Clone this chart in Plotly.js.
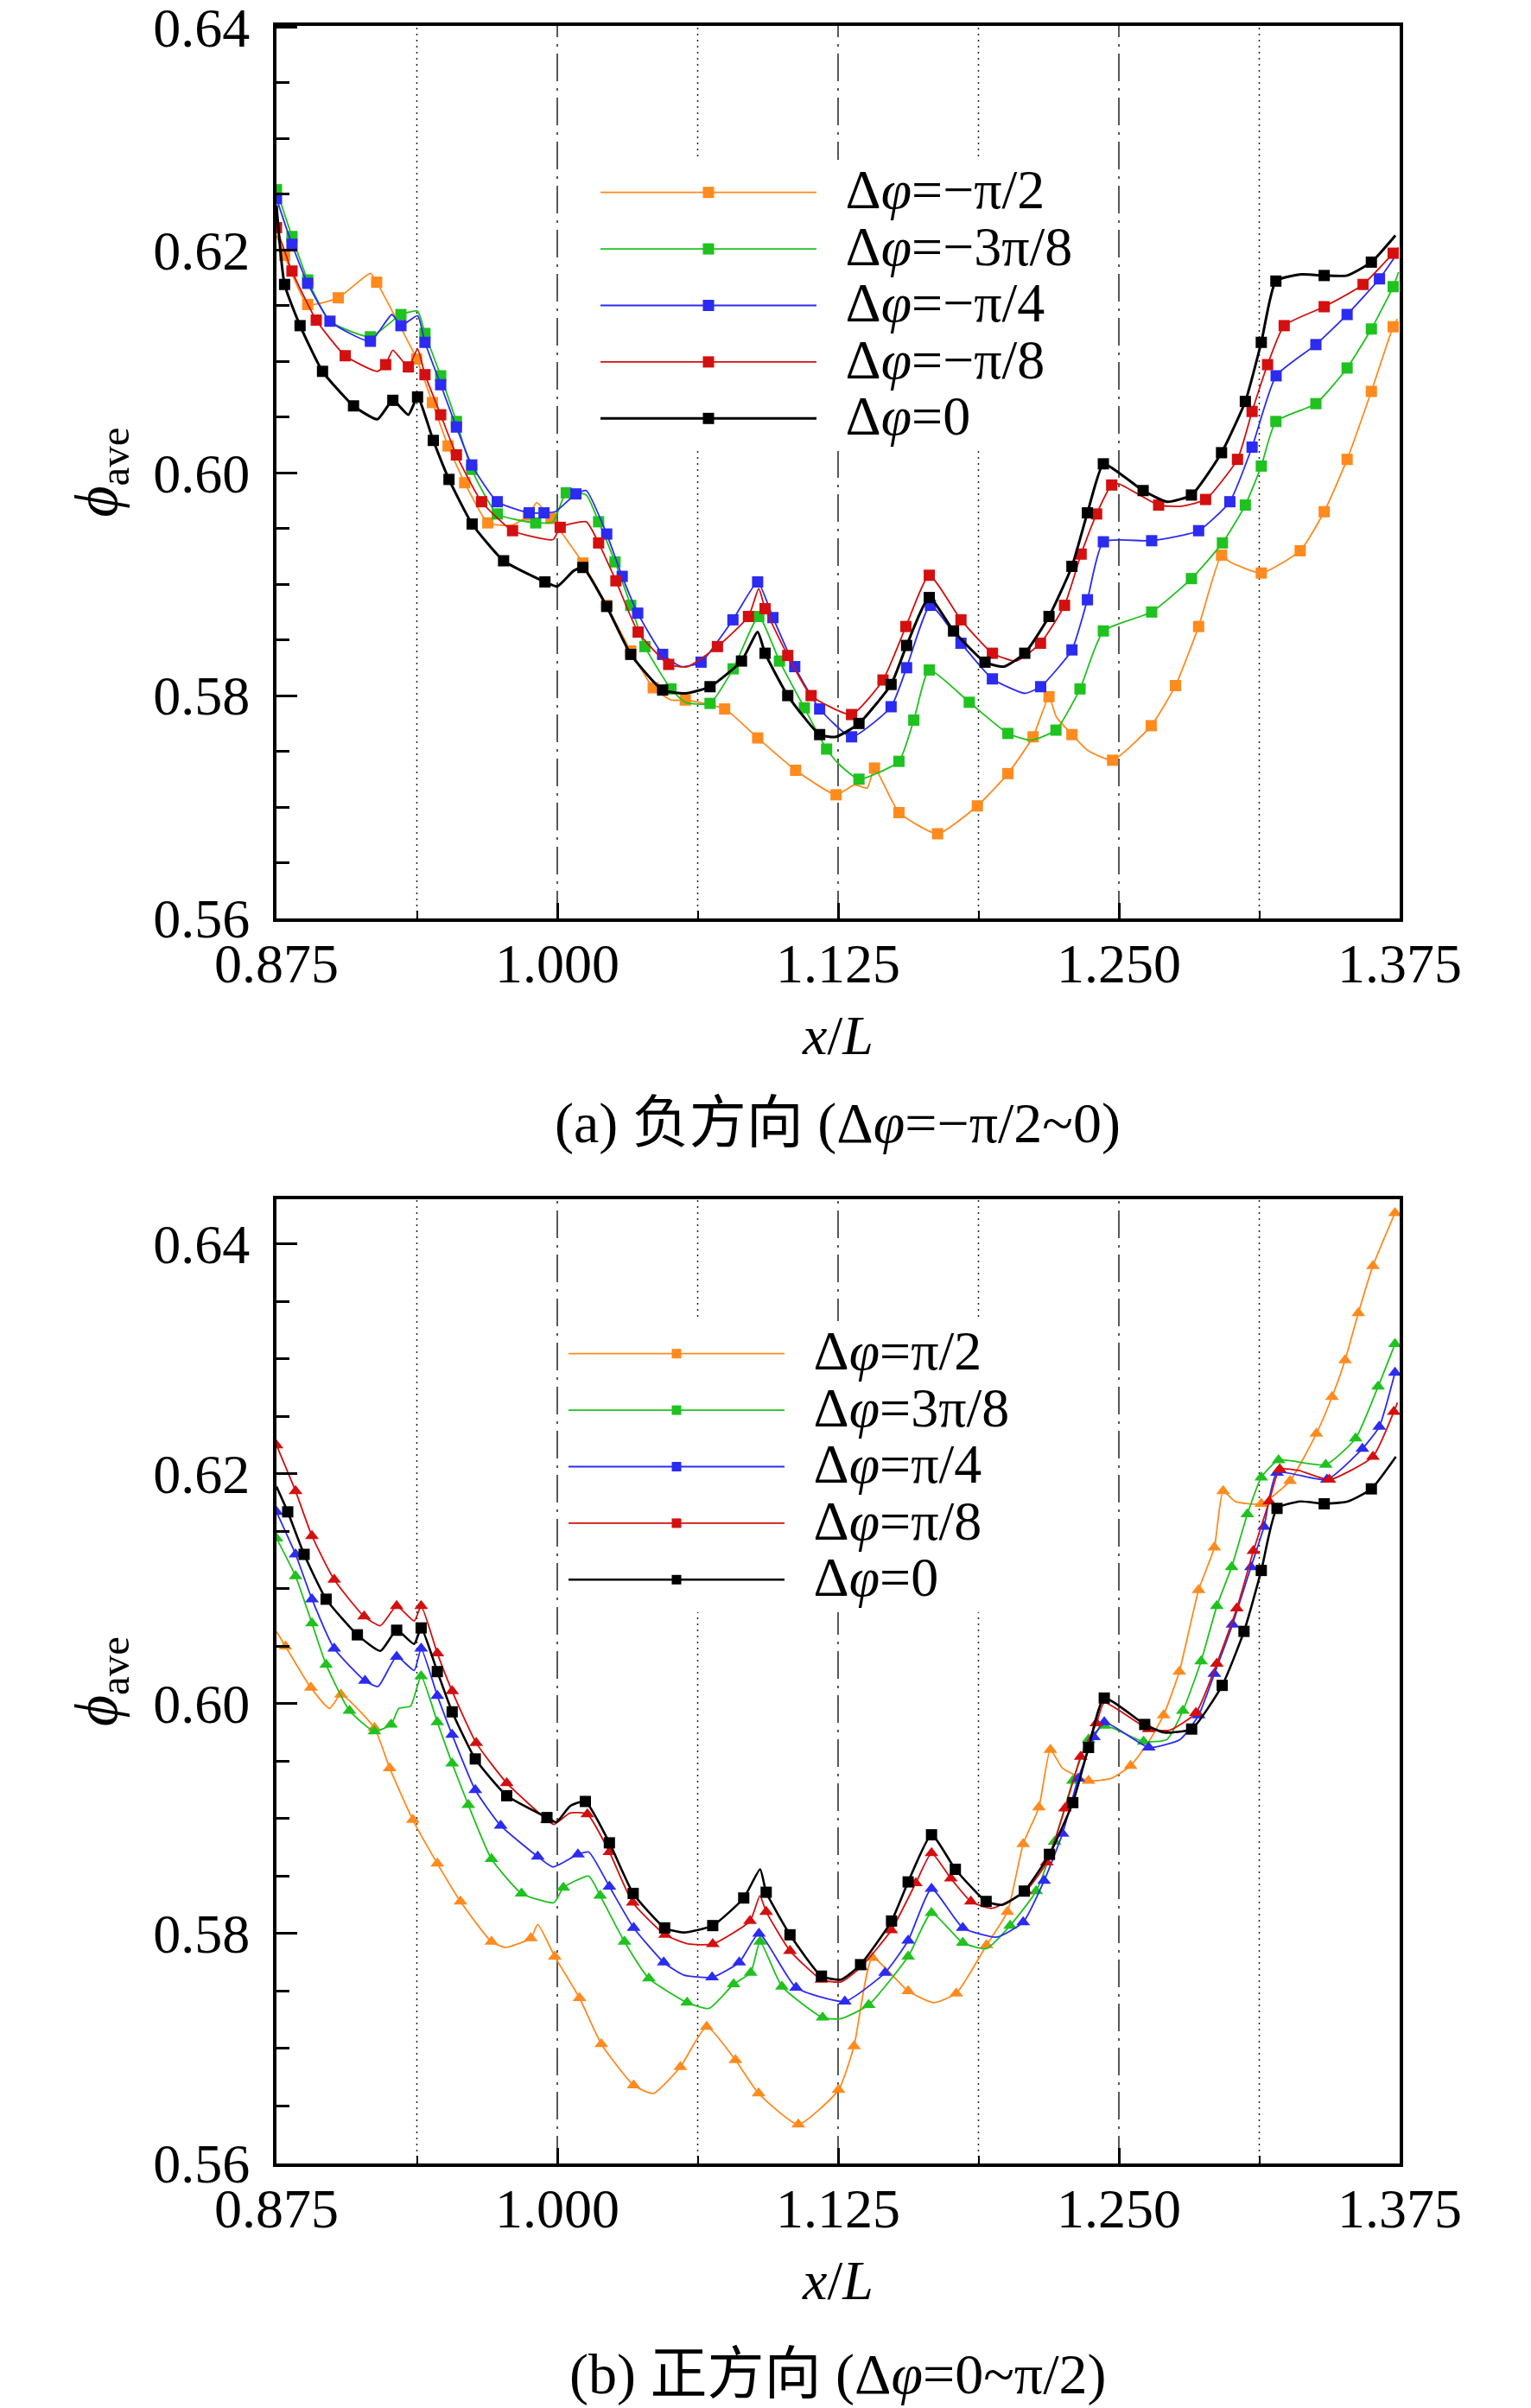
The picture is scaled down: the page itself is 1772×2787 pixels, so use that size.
<!DOCTYPE html>
<html>
<head>
<meta charset="utf-8">
<script src="https://cdn.plot.ly/plotly-3.0.1.min.js"></script>
<style>html,body{margin:0;padding:0;background:#fff;}</style>
</head>
<body>
<div id="chart" style="width:1772px;height:2787px;"></div>
<script>
// x/L range shared by both panels
const xRange = [0.875, 1.375];
const dotLinesX = [0.9375, 1.0625, 1.1875, 1.3125];
const dashDotLinesX = [1.0, 1.125, 1.25];

// ---- (a) negative direction: [x/L, phi_ave] at symbols, plus extra curve points ----
const aOrangeMarks = [[0.8786,0.6195],[0.8889,0.6151],[0.9025,0.6157],[0.9196,0.6171],[0.9374,0.6102],[0.9444,0.6063],[0.9514,0.6024],[0.9588,0.5991],[0.9691,0.5955],[0.9871,0.5962],[0.9972,0.5959],[1.0114,0.5919],[1.0220,0.5881],[1.0327,0.5840],[1.0427,0.5807],[1.0570,0.5796],[1.0745,0.5788],[1.0892,0.5762],[1.1061,0.5733],[1.1241,0.5711],[1.1412,0.5735],[1.1521,0.5695],[1.1693,0.5676],[1.1870,0.5701],[1.2006,0.5730],[1.2118,0.5763],[1.2189,0.5799],[1.2291,0.5765],[1.2472,0.5742],[1.2644,0.5773],[1.2752,0.5809],[1.2855,0.5862],[1.2957,0.5926],[1.3134,0.5910],[1.3307,0.5930],[1.3414,0.5965],[1.3516,0.6012],[1.3624,0.6073],[1.3721,0.6131]];
const aOrangeExtra = [[0.8750,0.6213],[0.9168,0.6179],[0.9801,0.5953],[0.9908,0.5973],[1.0506,0.5796],[1.1324,0.5720],[1.1380,0.5717],[1.2221,0.5781],[1.2360,0.5751],[1.2994,0.5920],[1.3740,0.6138]];

const aGreenMarks = [[0.8750,0.6254],[0.8819,0.6212],[0.8889,0.6173],[0.9168,0.6122],[0.9304,0.6142],[0.9411,0.6125],[0.9481,0.6087],[0.9551,0.6046],[0.9619,0.6003],[0.9733,0.5963],[0.9904,0.5955],[1.0040,0.5982],[1.0184,0.5956],[1.0257,0.5920],[1.0327,0.5881],[1.0390,0.5844],[1.0506,0.5806],[1.0680,0.5793],[1.0783,0.5824],[1.0897,0.5871],[1.0989,0.5831],[1.1100,0.5789],[1.1199,0.5752],[1.1343,0.5725],[1.1521,0.5741],[1.1587,0.5778],[1.1656,0.5823],[1.1834,0.5794],[1.2006,0.5766],[1.2220,0.5769],[1.2327,0.5806],[1.2431,0.5858],[1.2646,0.5875],[1.2823,0.5905],[1.2961,0.5937],[1.3063,0.5971],[1.3134,0.6006],[1.3199,0.6046],[1.3377,0.6062],[1.3516,0.6094],[1.3624,0.6129],[1.3721,0.6167]];
const aGreenExtra = [[0.8988,0.6136],[0.9378,0.6145],[0.9981,0.5956],[1.0129,0.5980],[1.0570,0.5794],[1.1251,0.5739],[1.2109,0.5760],[1.3745,0.6180]];

const aBlueMarks = [[0.8750,0.6246],[0.8819,0.6205],[0.8889,0.6170],[0.8988,0.6136],[0.9168,0.6118],[0.9304,0.6132],[0.9411,0.6117],[0.9481,0.6079],[0.9551,0.6041],[0.9619,0.6007],[0.9733,0.5974],[0.9875,0.5964],[0.9941,0.5964],[1.0083,0.5981],[1.0220,0.5945],[1.0289,0.5907],[1.0358,0.5874],[1.0469,0.5837],[1.0640,0.5830],[1.0782,0.5868],[1.0892,0.5902],[1.0960,0.5870],[1.1057,0.5826],[1.1168,0.5788],[1.1310,0.5763],[1.1486,0.5790],[1.1555,0.5825],[1.1661,0.5881],[1.1797,0.5847],[1.1937,0.5815],[1.2152,0.5808],[1.2291,0.5841],[1.2360,0.5886],[1.2431,0.5938],[1.2646,0.5939],[1.2855,0.5948],[1.2994,0.5974],[1.3093,0.6023],[1.3200,0.6087],[1.3377,0.6115],[1.3516,0.6142],[1.3660,0.6174]];
const aBlueExtra = [[0.9264,0.6142],[0.9378,0.6141],[0.9991,0.5965],[1.0129,0.5984],[1.0552,0.5826],[1.2081,0.5802],[1.3740,0.6197]];

const aRedMarks = [[0.8750,0.6220],[0.8819,0.6181],[0.8927,0.6137],[0.9056,0.6105],[0.9236,0.6097],[0.9337,0.6095],[0.9411,0.6088],[0.9481,0.6052],[0.9551,0.6016],[0.9663,0.5974],[0.9801,0.5948],[1.0013,0.5951],[1.0184,0.5937],[1.0261,0.5903],[1.0360,0.5857],[1.0496,0.5828],[1.0713,0.5844],[1.0851,0.5871],[1.0925,0.5878],[1.1026,0.5836],[1.1130,0.5800],[1.1310,0.5783],[1.1450,0.5814],[1.1552,0.5862],[1.1656,0.5908],[1.1797,0.5868],[1.1937,0.5838],[1.2151,0.5847],[1.2258,0.5881],[1.2332,0.5927],[1.2401,0.5963],[1.2468,0.5989],[1.2677,0.5971],[1.2886,0.5976],[1.3028,0.6012],[1.3093,0.6055],[1.3162,0.6097],[1.3236,0.6132],[1.3414,0.6149],[1.3587,0.6169],[1.3721,0.6197]];
const aRedExtra = [[0.9199,0.6091],[0.9268,0.6110],[0.9378,0.6111],[0.9981,0.5940],[1.0129,0.5956],[1.0580,0.5826],[1.0897,0.5896],[1.2043,0.5831],[1.2500,0.5990],[1.2780,0.5970],[1.3745,0.6202]];

const aBlackMarks = [[0.8786,0.6169],[0.8855,0.6132],[0.8955,0.6091],[0.9093,0.6060],[0.9268,0.6065],[0.9378,0.6068],[0.9448,0.6029],[0.9518,0.5994],[0.9621,0.5954],[0.9761,0.5921],[0.9945,0.5902],[1.0114,0.5915],[1.0220,0.5880],[1.0327,0.5837],[1.0469,0.5805],[1.0680,0.5808],[1.0820,0.5831],[1.0925,0.5838],[1.1026,0.5800],[1.1168,0.5765],[1.1343,0.5775],[1.1486,0.5810],[1.1555,0.5845],[1.1656,0.5888],[1.1764,0.5858],[1.1904,0.5830],[1.2081,0.5838],[1.2189,0.5871],[1.2291,0.5916],[1.2360,0.5964],[1.2431,0.6008],[1.2608,0.5984],[1.2823,0.5980],[1.2957,0.6018],[1.3063,0.6064],[1.3134,0.6117],[1.3199,0.6172],[1.3414,0.6177],[1.3624,0.6189]];
const aBlackExtra = [[0.8750,0.6240],[0.9199,0.6048],[0.9337,0.6052],[1.0000,0.5898],[1.0073,0.5912],[1.0570,0.5802],[1.0892,0.5857],[1.1241,0.5763],[1.1988,0.5826],[1.2500,0.6000],[1.2715,0.5974],[1.3311,0.6178],[1.3516,0.6177],[1.3731,0.6213]];

// ---- (b) positive direction ----
const bOrangeMarks = [[0.8790,0.6050],[0.8903,0.6014],[0.9037,0.6008],[0.9186,0.5979],[0.9254,0.5944],[0.9357,0.5899],[0.9466,0.5861],[0.9569,0.5828],[0.9707,0.5793],[0.9882,0.5796],[0.9989,0.5780],[1.0099,0.5744],[1.0196,0.5704],[1.0340,0.5668],[1.0548,0.5684],[1.0665,0.5719],[1.0793,0.5690],[1.0896,0.5661],[1.1073,0.5634],[1.1252,0.5664],[1.1321,0.5702],[1.1403,0.5779],[1.1562,0.5750],[1.1776,0.5748],[1.1911,0.5790],[1.2004,0.5819],[1.2074,0.5878],[1.2144,0.5910],[1.2195,0.5960],[1.2365,0.5933],[1.2552,0.5946],[1.2699,0.5990],[1.2769,0.6028],[1.2855,0.6099],[1.2925,0.6136],[1.2964,0.6185],[1.3134,0.6174],[1.3262,0.6194],[1.3379,0.6235],[1.3449,0.6267],[1.3507,0.6299],[1.3566,0.6340],[1.3631,0.6381],[1.3729,0.6427]];
const bOrangeExtra = [[0.8750,0.6063],[0.8986,0.5996],[0.9769,0.5788],[0.9913,0.5808],[1.0428,0.5661],[1.1675,0.5740],[1.2249,0.5944],[1.2465,0.5935],[1.2633,0.5967],[1.3018,0.6176]];

const bGreenMarks = [[0.8750,0.6144],[0.8835,0.6111],[0.8908,0.6070],[0.8971,0.6034],[0.9075,0.5994],[0.9186,0.5976],[0.9260,0.5982],[0.9394,0.6024],[0.9466,0.5984],[0.9532,0.5948],[0.9604,0.5912],[0.9707,0.5865],[0.9841,0.5835],[1.0027,0.5840],[1.0191,0.5833],[1.0299,0.5793],[1.0408,0.5761],[1.0578,0.5740],[1.0785,0.5756],[1.0861,0.5766],[1.0903,0.5793],[1.1000,0.5754],[1.1181,0.5727],[1.1386,0.5738],[1.1562,0.5780],[1.1666,0.5818],[1.1805,0.5792],[1.2016,0.5807],[1.2132,0.5837],[1.2214,0.5880],[1.2295,0.5933],[1.2365,0.5969],[1.2435,0.5981],[1.2610,0.5967],[1.2785,0.5994],[1.2866,0.6037],[1.2936,0.6085],[1.3002,0.6119],[1.3072,0.6165],[1.3134,0.6197],[1.3211,0.6212],[1.3421,0.6208],[1.3554,0.6231],[1.3654,0.6276],[1.3729,0.6313]];
const bGreenExtra = [[0.9295,0.5996],[0.9347,0.5998],[0.9985,0.5827],[1.0140,0.5850],[1.0676,0.5735],[1.1263,0.5726],[1.1911,0.5787],[1.2714,0.5969]];

const bBlueMarks = [[0.8750,0.6167],[0.8835,0.6130],[0.8908,0.6091],[0.9007,0.6048],[0.9144,0.6020],[0.9285,0.6041],[0.9394,0.6048],[0.9466,0.6007],[0.9532,0.5973],[0.9635,0.5925],[0.9748,0.5894],[0.9913,0.5867],[1.0092,0.5869],[1.0232,0.5841],[1.0340,0.5805],[1.0474,0.5775],[1.0689,0.5762],[1.0810,0.5775],[1.0898,0.5800],[1.1063,0.5753],[1.1280,0.5741],[1.1459,0.5766],[1.1562,0.5794],[1.1666,0.5839],[1.1805,0.5805],[1.2074,0.5810],[1.2167,0.5846],[1.2249,0.5887],[1.2319,0.5935],[1.2389,0.5971],[1.2435,0.5984],[1.2633,0.5962],[1.2855,0.5990],[1.2925,0.6026],[1.3006,0.6069],[1.3088,0.6119],[1.3146,0.6154],[1.3204,0.6201],[1.3426,0.6195],[1.3584,0.6222],[1.3659,0.6241],[1.3729,0.6288]];
const bBlueExtra = [[0.9202,0.6015],[0.9363,0.6029],[0.9981,0.5858],[1.0140,0.5871],[1.0562,0.5764],[1.1957,0.5797],[1.2773,0.5969]];

const bRedMarks = [[0.8750,0.6225],[0.8835,0.6185],[0.8908,0.6146],[0.9007,0.6108],[0.9140,0.6076],[0.9285,0.6085],[0.9394,0.6085],[0.9466,0.6044],[0.9532,0.6011],[0.9639,0.5966],[0.9775,0.5931],[0.9954,0.5899],[1.0134,0.5904],[1.0232,0.5871],[1.0336,0.5827],[1.0480,0.5799],[1.0692,0.5791],[1.0858,0.5811],[1.0930,0.5819],[1.1036,0.5785],[1.1176,0.5760],[1.1352,0.5771],[1.1487,0.5803],[1.1596,0.5844],[1.1666,0.5870],[1.1752,0.5848],[1.1841,0.5828],[1.2085,0.5837],[1.2179,0.5862],[1.2260,0.5909],[1.2330,0.5954],[1.2400,0.5983],[1.2633,0.5978],[1.2843,0.5992],[1.2936,0.6035],[1.3025,0.6083],[1.3099,0.6133],[1.3169,0.6176],[1.3216,0.6204],[1.3437,0.6195],[1.3631,0.6215],[1.3724,0.6254]];
const bRedExtra = [[0.9213,0.6068],[0.9363,0.6072],[0.9985,0.5895],[1.0057,0.5905],[1.0583,0.5791],[1.0902,0.5833],[1.1263,0.5758],[1.1934,0.5822],[1.2435,0.6001],[1.2726,0.5977],[1.3300,0.6203],[1.3740,0.6262]];

const bBlackMarks = [[0.8800,0.6167],[0.8873,0.6130],[0.8971,0.6091],[0.9110,0.6060],[0.9285,0.6064],[0.9394,0.6066],[0.9466,0.6028],[0.9532,0.5993],[0.9635,0.5952],[0.9775,0.5920],[0.9954,0.5901],[1.0125,0.5915],[1.0232,0.5879],[1.0338,0.5835],[1.0478,0.5805],[1.0692,0.5807],[1.0830,0.5831],[1.0930,0.5836],[1.1036,0.5799],[1.1176,0.5763],[1.1350,0.5773],[1.1488,0.5811],[1.1562,0.5845],[1.1666,0.5886],[1.1772,0.5856],[1.1909,0.5828],[1.2079,0.5837],[1.2191,0.5869],[1.2295,0.5914],[1.2365,0.5962],[1.2435,0.6005],[1.2615,0.5982],[1.2824,0.5978],[1.2960,0.6016],[1.3057,0.6063],[1.3134,0.6116],[1.3204,0.6170],[1.3414,0.6174],[1.3624,0.6187]];
const bBlackExtra = [[0.8750,0.6189],[0.9213,0.6046],[0.9363,0.6052],[0.9996,0.5897],[1.0057,0.5911],[1.0562,0.5801],[1.0903,0.5856],[1.1263,0.5760],[1.1981,0.5825],[1.2703,0.5975],[1.3309,0.6176],[1.3519,0.6176],[1.3733,0.6215]];

const namesA = ['Δ<i>φ</i>=−π/2', 'Δ<i>φ</i>=−3π/8', 'Δ<i>φ</i>=−π/4', 'Δ<i>φ</i>=−π/8', 'Δ<i>φ</i>=0'];
const namesB = ['Δ<i>φ</i>=π/2', 'Δ<i>φ</i>=3π/8', 'Δ<i>φ</i>=π/4', 'Δ<i>φ</i>=π/8', 'Δ<i>φ</i>=0'];
const colors = ['#ff8a1e', '#1fc21f', '#2b2bf2', '#d40f0f', '#000000'];

const serif = 'Liberation Serif, Times New Roman, serif';

const panelA = [
    {marks: aOrangeMarks, extra: aOrangeExtra},
    {marks: aGreenMarks, extra: aGreenExtra},
    {marks: aBlueMarks, extra: aBlueExtra},
    {marks: aRedMarks, extra: aRedExtra},
    {marks: aBlackMarks, extra: aBlackExtra}
];
const panelB = [
    {marks: bOrangeMarks, extra: bOrangeExtra},
    {marks: bGreenMarks, extra: bGreenExtra},
    {marks: bBlueMarks, extra: bBlueExtra},
    {marks: bRedMarks, extra: bRedExtra},
    {marks: bBlackMarks, extra: bBlackExtra}
];

const traces = [];

function addPanel(panel, names, xa, ya, legendId, symbolOf, blackWidth) {
    panel.forEach(function (s, i) {
        const color = colors[i];
        const isBlack = i === 4;
        const width = isBlack ? blackWidth : 1.8;
        const sym = symbolOf(i);
        const pts = s.marks.concat(s.extra).sort(function (p, q) { return p[0] - q[0]; });
        traces.push({
            x: pts.map(p => p[0]), y: pts.map(p => p[1]),
            xaxis: xa, yaxis: ya, mode: 'lines',
            line: {color: color, width: width, shape: 'spline', smoothing: 0.5},
            showlegend: false, hoverinfo: 'skip'
        });
        traces.push({
            x: s.marks.map(p => p[0]), y: s.marks.map(p => p[1]),
            xaxis: xa, yaxis: ya, mode: 'markers',
            marker: {symbol: sym, size: sym === 'square' ? 13 : 14, color: color},
            showlegend: false, hoverinfo: 'skip'
        });
        // legend entry (squares in both legends)
        traces.push({
            x: [null], y: [null], xaxis: xa, yaxis: ya,
            mode: 'lines+markers', legend: legendId,
            name: '<span style="font-size:64px">  ' + names[i] + '</span>',
            line: {color: color, width: width},
            marker: {symbol: 'square', size: legendId === 'legend' ? 13 : 11, color: color}
        });
    });
}

addPanel(panelA, namesA, 'x', 'y', 'legend', () => 'square', 3);
addPanel(panelB, namesB, 'x2', 'y2', 'legend2', i => (i === 4 ? 'square' : 'triangle-up'), 2.6);

const xDomain = [320 / 1772, 1620 / 1772];
const tickFont = {family: serif, size: 64, color: '#000'};

function xAxis(anchor) {
    return {
        domain: xDomain, range: xRange, anchor: anchor,
        showline: true, mirror: true, linewidth: 4, linecolor: '#000',
        ticks: 'inside', ticklen: 18, tickwidth: 3, tickcolor: '#000',
        tick0: 0.875, dtick: 0.125, tickformat: '.3f',
        minor: {ticks: 'inside', ticklen: 9, tickwidth: 2, tickcolor: '#000', dtick: 0.0625, showgrid: false},
        showgrid: false, zeroline: false, tickfont: tickFont, ticklabelstandoff: -7,
        ticklabeloverflow: 'allow',
        title: {text: '<i>x</i>/<i>L</i>', font: {family: serif, size: 64, color: '#000'}, standoff: 26}
    };
}
function yAxis(anchor, domain, range) {
    return {
        domain: domain, range: range, anchor: anchor,
        showline: true, mirror: true, linewidth: 4, linecolor: '#000',
        ticks: 'inside', ticklen: 24, tickwidth: 3, tickcolor: '#000',
        tick0: 0.56, dtick: 0.02, tickformat: '.2f',
        minor: {ticks: 'inside', ticklen: 15, tickwidth: 3, tickcolor: '#000', dtick: 0.005, showgrid: false},
        showgrid: false, zeroline: false, tickfont: tickFont, ticklabelstandoff: 14,
        ticklabeloverflow: 'allow',
        title: {text: '<i>ϕ</i><sub>ave</sub>', font: {family: serif, size: 70, color: '#000'}, standoff: 20}
    };
}

const shapes = [];
[['x', 'y domain'], ['x2', 'y2 domain']].forEach(function (ref) {
    dotLinesX.forEach(function (v) {
        shapes.push({type: 'line', xref: ref[0], yref: ref[1], x0: v, x1: v, y0: 0, y1: 1, layer: 'below',
            line: {color: '#222', width: 1.5, dash: '2px,5px'}});
    });
    dashDotLinesX.forEach(function (v) {
        shapes.push({type: 'line', xref: ref[0], yref: ref[1], x0: v, x1: v, y0: 0, y1: 1, layer: 'below',
            line: {color: '#222', width: 1.5, dash: '32px,8px,3px,8px'}});
    });
});

const legendBase = {
    xanchor: 'left', yanchor: 'top', bgcolor: '#ffffff', borderwidth: 0,
    font: {family: serif, size: 48, color: '#000'}, itemwidth: 250, tracegroupgap: 0,
    itemclick: false, itemdoubleclick: false
};

const captionFont = {family: 'Liberation Serif, Noto Sans CJK SC, serif', size: 66, color: '#000'};

const layout = {
    width: 1772, height: 2787,
    margin: {l: 0, r: 0, t: 0, b: 0},
    paper_bgcolor: '#fff', plot_bgcolor: '#fff',
    showlegend: true,
    xaxis: xAxis('y'),
    yaxis: yAxis('x', [1 - 1063 / 2787, 1 - 30 / 2787], [0.56, 0.6401]),
    xaxis2: xAxis('y2'),
    yaxis2: yAxis('x2', [1 - 2504 / 2787, 1 - 1388 / 2787], [0.56, 0.6439]),
    legend: Object.assign({x: 690 / 1772, y: 1 - 185 / 2787}, legendBase),
    legend2: Object.assign({x: 653 / 1772, y: 1 - 1529 / 2787}, legendBase),
    shapes: shapes,
    annotations: [
        {text: '(a) 负方向 (Δ<i>φ</i>=−π/2~0)', xref: 'paper', yref: 'paper', x: 970 / 1772, y: 1 - 1300 / 2787,
            xanchor: 'center', yanchor: 'middle', showarrow: false, font: captionFont},
        {text: '(b) 正方向 (Δ<i>φ</i>=0~π/2)', xref: 'paper', yref: 'paper', x: 970 / 1772, y: 1 - 2748 / 2787,
            xanchor: 'center', yanchor: 'middle', showarrow: false, font: captionFont}
    ]
};

Plotly.newPlot('chart', traces, layout, {staticPlot: true});
</script>
</body>
</html>
